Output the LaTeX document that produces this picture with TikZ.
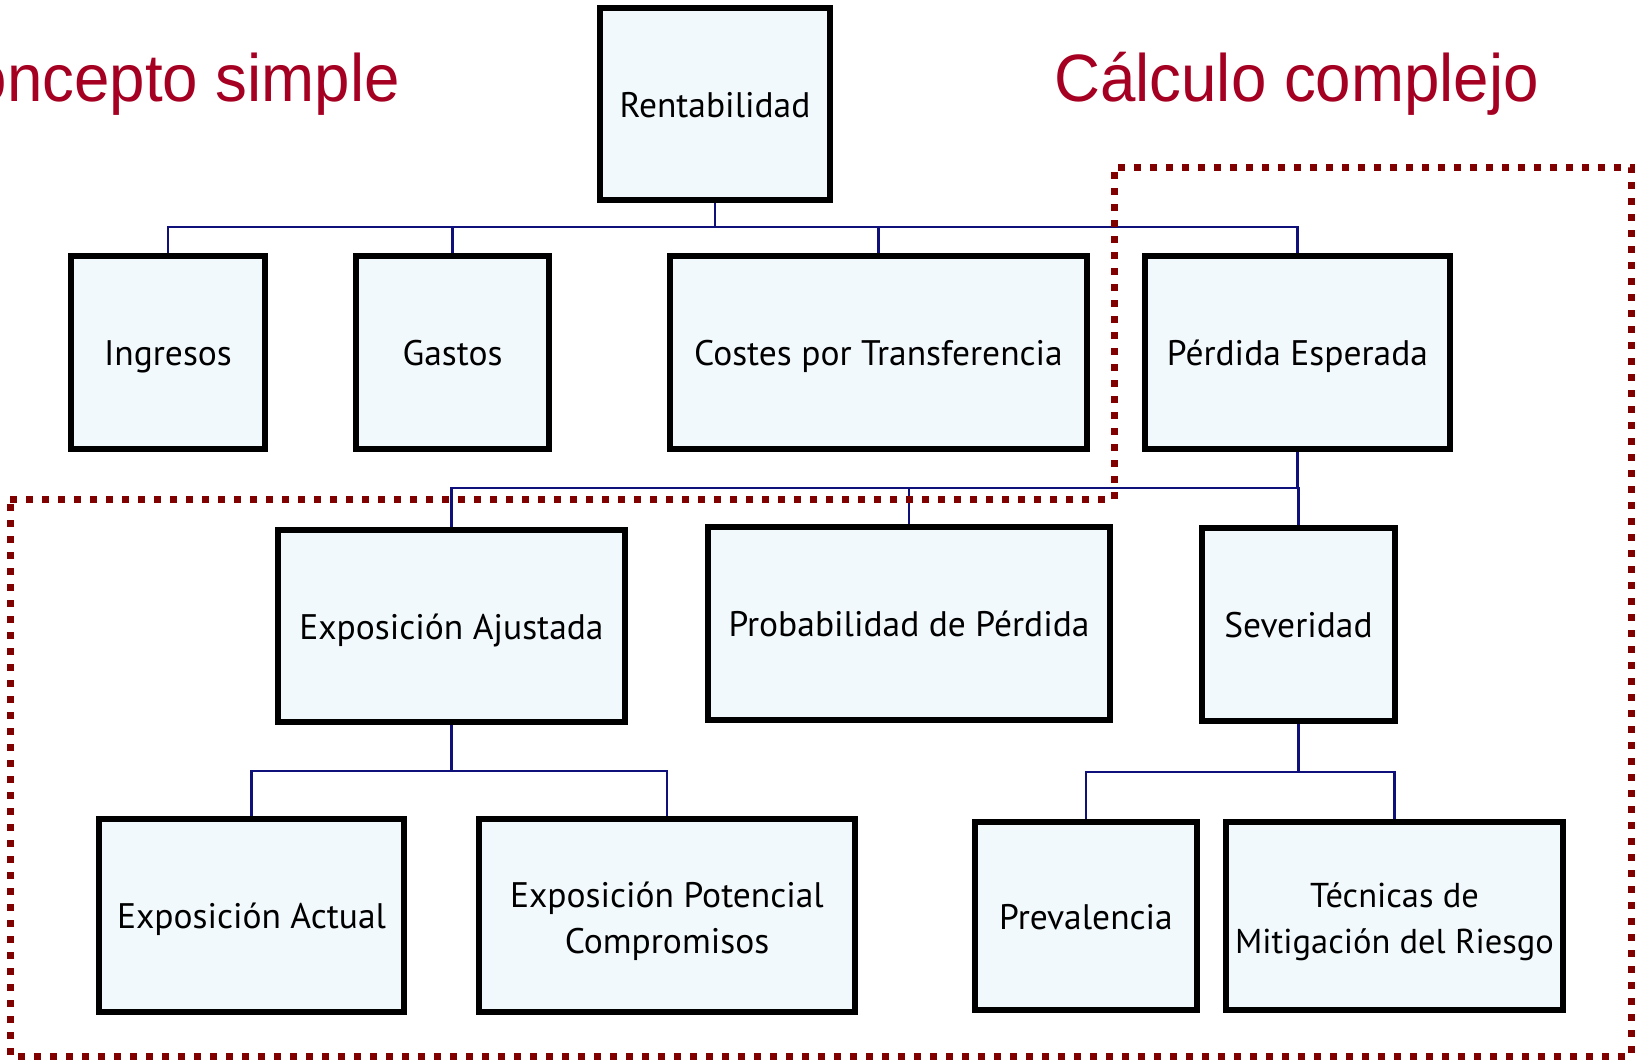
\documentclass[tikz,border=0pt]{standalone}
\usepackage{fontspec}
\setmainfont{PT Sans}
\newfontfamily\titlefont[FakeStretch=0.95]{Liberation Sans}
\definecolor{boxfill}{HTML}{F2F9FC}
\definecolor{navyline}{HTML}{10107A}
\definecolor{titlered}{HTML}{A50021}
\definecolor{dotred}{HTML}{800000}
\begin{document}
\begin{tikzpicture}[x=1pt,y=-1pt,
  box/.style={draw=black,line width=5.5pt,fill=boxfill,inner sep=0pt,
    font=\fontsize{35.5}{46}\selectfont,align=center},
  oneline/.style={text height=26pt,text depth=0pt},
  conn/.style={draw=navyline,line width=2.2pt},
  region/.style={draw=dotred,line width=7pt,dash pattern=on 7pt off 9pt},
  title/.style={text=titlered,font=\titlefont\fontsize{67}{80}\selectfont,inner sep=0pt}]
\useasboundingbox[fill=white] (0,0) rectangle (1636,1060);

% nodes
\node[box,oneline,minimum width=230pt,minimum height=192pt] (R) at (715,104) {Rentabilidad};
\node[box,oneline,minimum width=194pt,minimum height=193pt] (I) at (168,352.5) {Ingresos};
\node[box,oneline,minimum width=193pt,minimum height=193pt] (G) at (452.5,352.5) {Gastos};
\node[box,oneline,minimum width=417pt,minimum height=193pt] (C) at (878.5,352.5) {Costes por Transferencia};
\node[box,oneline,minimum width=305pt,minimum height=193pt] (P) at (1297.5,352.5) {Pérdida Esperada};
\node[box,oneline,minimum width=347pt,minimum height=192pt] (EA) at (451.5,626) {Exposición Ajustada};
\node[box,oneline,minimum width=402pt,minimum height=193pt] (PP) at (909,623.5) {Probabilidad de Pérdida};
\node[box,oneline,minimum width=193pt,minimum height=193pt] (S) at (1298.5,624.5) {Severidad};
\node[box,oneline,minimum width=305pt,minimum height=193pt] (EAc) at (251.5,915.5) {Exposición Actual};
\node[box,minimum width=376pt,minimum height=193pt] (EP) at (667,915.5) {\rule{0pt}{43pt}Exposición Potencial\\\strut Compromisos};
\node[box,oneline,minimum width=222pt,minimum height=188pt] (PV) at (1086,916) {Prevalencia};
\node[box,minimum width=337pt,minimum height=188pt,font=\fontsize{34.5}{46}\selectfont] (T) at (1394.5,916) {\rule{0pt}{43pt}Técnicas de\\\strut Mitigación del Riesgo};

% bus levels
\coordinate (b1) at (0,227);
\coordinate (b2) at (0,488);
\coordinate (b3) at (0,771);
\coordinate (b4) at (0,772);

\foreach \c in {I,G,C,P}
  \draw[conn] (R.south) -- (R.south |- b1) -| (\c.north);
\foreach \c in {EA,PP,S}
  \draw[conn] (P.south) -- (P.south |- b2) -| (\c.north);
\foreach \c in {EAc,EP}
  \draw[conn] (EA.south) -- (EA.south |- b3) -| (\c.north);
\foreach \c in {PV,T}
  \draw[conn] (S.south) -- (S.south |- b4) -| (\c.north);

% dotted region
\coordinate (d1) at (10,499);
\coordinate (d2) at (1114,499);
\coordinate (d3) at (1114,167);
\coordinate (d4) at (1631,167);
\coordinate (d5) at (1631,1056);
\coordinate (d6) at (10,1056);
\draw[region] (d1) -- (d2) -- (d3) -- (d4) -- (d5) -- (d6) -- cycle;

% titles
\node[title,anchor=base east] (t1) at (400,101) {Concepto simple};
\node[title,anchor=base west] (t2) at (1054,101) {Cálculo complejo};
\end{tikzpicture}
\end{document}
